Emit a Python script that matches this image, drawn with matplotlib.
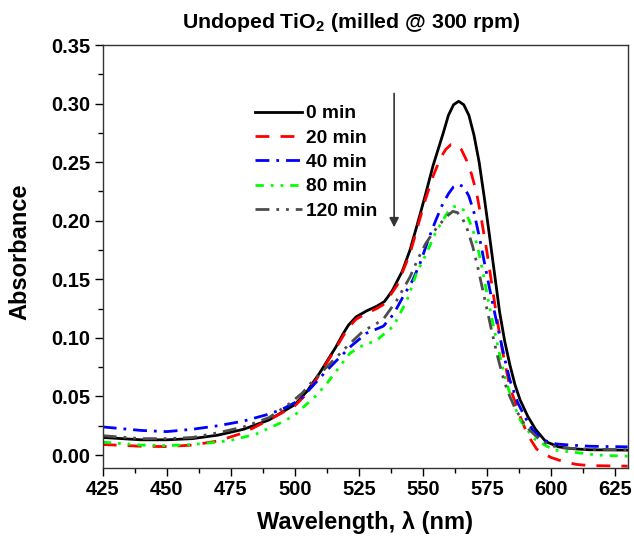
import matplotlib
matplotlib.use("Agg")
import matplotlib.pyplot as plt
from matplotlib.ticker import MultipleLocator, FormatStrFormatter

plt.rcParams['font.family'] = ['Liberation Sans', 'DejaVu Sans']
plt.rcParams['font.weight'] = 'bold'
plt.rcParams['mathtext.fontset'] = 'custom'
plt.rcParams['mathtext.rm'] = 'Liberation Sans:bold'
plt.rcParams['mathtext.it'] = 'Liberation Sans:bold'
plt.rcParams['mathtext.bf'] = 'Liberation Sans:bold'

# ---- data ----
wl_0 = [425, 440, 450, 460, 470, 480, 490, 500, 505, 510, 516, 519, 521, 524, 528, 532, 535, 538,
        542, 545, 548, 551, 554, 558, 560, 562, 564, 566, 568, 570, 572, 574, 576, 578, 580, 582,
        584, 586, 588, 591, 594, 598, 603, 608, 615, 630]
a_0 = [0.0150, 0.013, 0.013, 0.014, 0.017, 0.022, 0.030, 0.043, 0.055, 0.071, 0.092, 0.104, 0.111,
       0.118, 0.123, 0.127, 0.131, 0.140, 0.157, 0.175, 0.198, 0.222, 0.247, 0.275, 0.290, 0.299,
       0.302, 0.299, 0.290, 0.273, 0.250, 0.220, 0.188, 0.155, 0.122, 0.097, 0.077, 0.060, 0.047,
       0.033, 0.022, 0.0115, 0.007, 0.0055, 0.0045, 0.0042]

wl_20 = [425, 440, 450, 460, 470, 480, 490, 500, 505, 510, 516, 519, 521, 524, 528, 532, 535, 540,
         545, 548, 551, 554, 557, 559, 561, 563, 565, 567, 569, 571, 573, 575, 577, 579, 581, 584,
         588, 591, 594.5, 597, 600, 605, 610, 615, 630]
a_20 = [0.0090, 0.0075, 0.0072, 0.0085, 0.012, 0.019, 0.030, 0.042, 0.053, 0.070, 0.091, 0.102,
        0.109, 0.116, 0.121, 0.125, 0.129, 0.145, 0.172, 0.195, 0.218, 0.238, 0.254, 0.261, 0.265,
        0.265, 0.261, 0.252, 0.240, 0.224, 0.200, 0.174, 0.145, 0.116, 0.090, 0.058, 0.033, 0.017,
        0.005, 0.0015, -0.002, -0.0057, -0.008, -0.009, -0.0095]

wl_40 = [425, 440, 450, 460, 470, 480, 490, 495, 502, 507, 512, 516, 522, 528, 534.6, 538.5, 542,
         546, 549, 552, 555, 557.5, 560, 562, 564, 566, 568, 570, 572, 574, 576, 578, 580, 582, 584,
         587, 590, 593, 597, 602, 607.5, 615, 630]
a_40 = [0.024, 0.021, 0.020, 0.022, 0.025, 0.029, 0.035, 0.039, 0.047, 0.059, 0.071, 0.080, 0.093,
        0.104, 0.110, 0.120, 0.134, 0.149, 0.164, 0.183, 0.200, 0.213, 0.223, 0.229, 0.231, 0.229,
        0.221, 0.207, 0.187, 0.165, 0.143, 0.122, 0.102, 0.082, 0.064, 0.045, 0.032, 0.021, 0.0128,
        0.0095, 0.0085, 0.0075, 0.007]

wl_80 = [425, 440, 450, 460, 470, 476, 485, 490, 495, 500, 503.4, 508, 512.5, 517, 521.6, 526, 532,
         538.5, 543.8, 547.7, 551.6, 555, 558, 560, 562, 564, 566, 568, 570, 572, 574, 576, 578.2,
         580.5, 582.8, 585, 588, 593.2, 601, 607.5, 618, 630]
a_80 = [0.0110, 0.0085, 0.0080, 0.009, 0.011, 0.013, 0.018, 0.023, 0.028, 0.034, 0.041, 0.050, 0.061,
        0.074, 0.087, 0.093, 0.098, 0.110, 0.132, 0.156, 0.173, 0.190, 0.201, 0.208, 0.212, 0.212,
        0.209, 0.201, 0.189, 0.172, 0.150, 0.127, 0.104, 0.081, 0.061, 0.046, 0.030, 0.0143, 0.0043,
        0.0028, 0.0, -0.001]

wl_120 = [425, 440, 450, 460, 470, 480, 490, 498, 503, 507.3, 513.8, 520.3, 526.8, 531, 534.6, 539.8,
          545, 548, 551, 554, 557, 559.5, 561.7, 563.5, 565.5, 567.5, 569.5, 571.5, 573.5, 575, 577,
          579, 581, 583, 586, 590, 595.8, 600, 605, 615, 630]
a_120 = [0.0165, 0.014, 0.014, 0.015, 0.019, 0.024, 0.032, 0.044, 0.053, 0.064, 0.078, 0.0925,
         0.106, 0.111, 0.116, 0.132, 0.152, 0.167, 0.180, 0.190, 0.198, 0.204, 0.208, 0.207, 0.202,
         0.192, 0.178, 0.160, 0.140, 0.125, 0.105, 0.086, 0.069, 0.055, 0.040, 0.025, 0.0128, 0.008,
         0.006, 0.005, 0.0045]

labels = ['0 min', '20 min', '40 min', '80 min', '120 min']
title = 'Undoped TiO$_2$ (milled @ 300 rpm)'

# ---- figure ----
fig = plt.figure(figsize=(6.34, 5.36), dpi=100)
ax = fig.add_axes([0.162, 0.127, 0.828, 0.789])

lw = 2.0
ax.plot(wl_0, a_0, color='black', lw=lw, ls='-', label=labels[0])
ax.plot(wl_20, a_20, color='#ff0000', lw=lw, ls=(0, (5, 4)), label=labels[1])
ax.plot(wl_40, a_40, color='#0000ff', lw=lw, ls=(0, (5, 2.5, 1, 2.5)), label=labels[2])
ax.plot(wl_80, a_80, color='#00ff00', lw=lw, ls=(0, (3, 2.5, 1, 2.5, 1, 2.5)), label=labels[3])
ax.plot(wl_120, a_120, color='#4d4d4d', lw=lw, ls=(0, (5, 2.5, 1, 2.5, 1, 2.5)), label=labels[4])

ax.set_xlim(425, 630)
ax.set_ylim(-0.011, 0.35)
ax.xaxis.set_major_locator(MultipleLocator(25))
ax.xaxis.set_minor_locator(MultipleLocator(12.5))
ax.yaxis.set_major_locator(MultipleLocator(0.05))
ax.yaxis.set_minor_locator(MultipleLocator(0.025))
ax.yaxis.set_major_formatter(FormatStrFormatter('%.2f'))
ax.tick_params(which='both', direction='out', top=False, right=False, width=1.0)
ax.tick_params(which='major', length=6, labelsize=14.5, pad=3)
ax.tick_params(which='minor', length=3.5)
for lab in ax.get_xticklabels() + ax.get_yticklabels():
    lab.set_fontweight('bold')
for sp in ax.spines.values():
    sp.set_linewidth(1.0)
    sp.set_color('#333333')

ax.set_xlabel('Wavelength, λ (nm)', fontsize=17, fontweight='bold')
ax.set_ylabel('Absorbance', fontsize=17, fontweight='bold')
ax.xaxis.label.set_va('center')
ax.yaxis.label.set_va('center')
ax.xaxis.set_label_coords(0.5, -0.128)
ax.yaxis.set_label_coords(-0.157, 0.51)
fig.text(0.555, 0.958, title, ha='center', va='center', fontsize=15.3, fontweight='bold')

leg = ax.legend(loc='upper left', bbox_to_anchor=(0.29, 0.858), frameon=False,
                fontsize=13.8, handlelength=2.45, handletextpad=0.2, labelspacing=0.36,
                borderpad=0, borderaxespad=0)
for t in leg.get_texts():
    t.set_fontweight('bold')

ax.annotate('', xy=(538.8, 0.192), xytext=(538.8, 0.311),
            arrowprops=dict(arrowstyle='-|>', color='#333333', lw=1.2, mutation_scale=14))

fig.savefig('out.png', dpi=100)
